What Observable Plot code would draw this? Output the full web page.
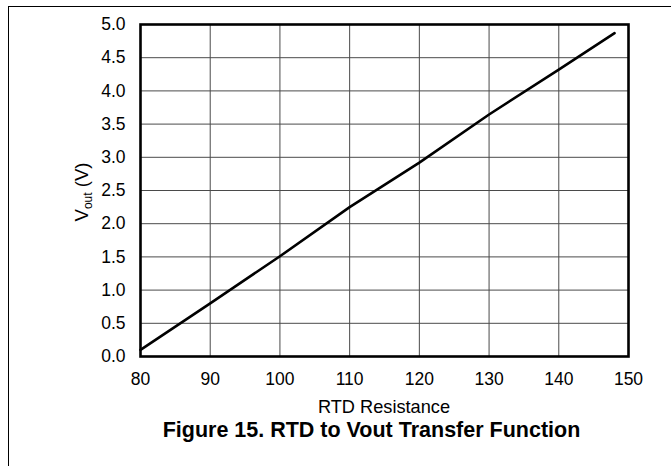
<!DOCTYPE html>
<html>
<head>
<meta charset="utf-8">
<script src="https://cdn.jsdelivr.net/npm/d3@7"></script>
<script src="https://cdn.jsdelivr.net/npm/@observablehq/plot@0.6"></script>
<style>
  html, body { margin: 0; padding: 0; background: #fff; }
  #wrap { position: relative; width: 671px; height: 466px; overflow: hidden; }
  #border { position: absolute; left: 8px; top: 6px; width: 700px; height: 500px;
            border-left: 1px solid #000; border-top: 1px solid #000; pointer-events: none; }
  #chart { position: absolute; left: 0; top: 0; }
</style>
</head>
<body>
<div id="wrap"><div id="chart"></div><div id="border"></div></div>
<script>
// RTD resistance (ohms) and output voltage (V)
const resistance = [80, 90, 100, 110, 120, 130, 140, 148];
const vout = [0.10, 0.80, 1.51, 2.25, 2.92, 3.645, 4.32, 4.87];
const xTicks = [80, 90, 100, 110, 120, 130, 140, 150];
const yTicks = [0, 0.5, 1, 1.5, 2, 2.5, 3, 3.5, 4, 4.5, 5];
const xLabel = "RTD Resistance";
const title = "Figure 15. RTD to Vout Transfer Function";

const data = resistance.map((r, i) => ({r, v: vout[i]}));
const font = "'Liberation Sans', Arial, sans-serif";

const plot = Plot.plot({
  width: 671,
  height: 466,
  marginLeft: 140,
  marginRight: 43,
  marginTop: 24,
  marginBottom: 110,
  style: {fontFamily: font, fontSize: "17.5px", color: "#000", background: "#fff"},
  x: {domain: [80, 150], ticks: xTicks, label: null},
  y: {domain: [0, 5], ticks: yTicks, label: null, tickFormat: d3.format(".1f")},
  marks: [
    Plot.gridX(xTicks, {stroke: "#4a4a4a", strokeOpacity: 1, strokeWidth: 1}),
    Plot.gridY(yTicks, {stroke: "#4a4a4a", strokeOpacity: 1, strokeWidth: 1}),
    Plot.axisX(xTicks, {tickSize: 0, tickPadding: 16, fontSize: 17.5, fill: "#000"}),
    Plot.axisY(yTicks, {tickSize: 0, tickPadding: 15, fontSize: 17.5, fill: "#000", tickFormat: d3.format(".1f")}),
    Plot.line(data, {x: "r", y: "v", stroke: "#000", strokeWidth: 2.6}),
    Plot.frame({stroke: "#000", strokeWidth: 2.6})
  ]
});

const svg = d3.select(plot);
svg.append("text")
  .attr("x", 384).attr("y", 413)
  .attr("text-anchor", "middle")
  .attr("font-family", font).attr("font-size", 18.2).attr("fill", "#000")
  .text(xLabel);
svg.append("text")
  .attr("x", 371.5).attr("y", 437)
  .attr("text-anchor", "middle")
  .attr("font-family", font).attr("font-size", 21.5).attr("font-weight", "bold").attr("fill", "#000")
  .text(title);
const yl = svg.append("text")
  .attr("transform", "translate(88,192) rotate(-90)")
  .attr("text-anchor", "middle")
  .attr("font-family", font).attr("font-size", 18.5).attr("fill", "#000");
yl.append("tspan").text("V");
yl.append("tspan").attr("font-size", 12).attr("dy", 4).text("out");
yl.append("tspan").attr("dy", -4).text(" (V)");

document.getElementById("chart").appendChild(plot);
</script>
</body>
</html>
